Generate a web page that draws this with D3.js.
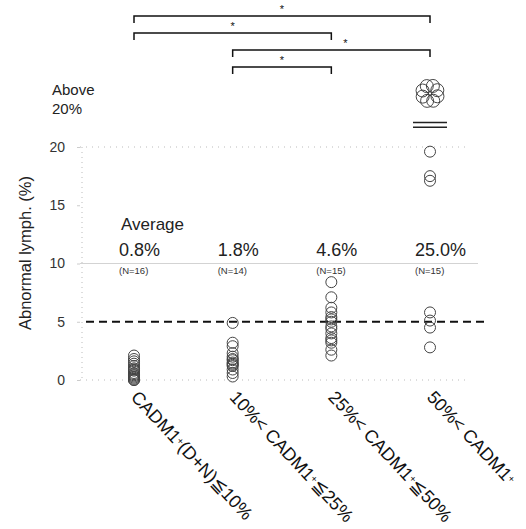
<!DOCTYPE html>
<html>
<head>
<meta charset="utf-8">
<script src="https://cdn.jsdelivr.net/npm/d3@7"></script>
<style>
  body { margin: 0; background: #fff; }
  svg { font-family: "Liberation Sans", Arial, sans-serif; }
</style>
</head>
<body>
<div id="chart"></div>
<script>
// groups along the x axis
const categories = ['g1', 'g2', 'g3', 'g4'];
const labelMain = ['CADM1', '10%< CADM1', '25%< CADM1', '50%< CADM1'];
const labelTail = ['(D+N)≦10%', '≦25%', '≦50%', ''];

// individual values (%) per group
const group1 = [2.1, 1.8, 1.6, 1.4, 1.2, 1.0, 0.9, 0.8, 0.6, 0.5, 0.4, 0.3, 0.2, 0.1, 0.0, 0.0];
const group2 = [4.9, 3.2, 2.9, 2.3, 2.0, 1.8, 1.7, 1.5, 1.4, 1.3, 1.2, 0.9, 0.6, 0.3];
const group3 = [8.4, 7.1, 6.2, 5.8, 5.4, 5.2, 5.0, 4.6, 4.4, 4.0, 3.6, 3.4, 3.2, 2.6, 2.1];
const group4 = [19.6, 17.5, 17.1, 5.8, 5.1, 4.5, 2.8];
const group4Above20 = 8; // points drawn in the "Above 20%" cluster

const averages = ['0.8%', '1.8%', '4.6%', '25.0%'];
const counts = ['(N=16)', '(N=14)', '(N=15)', '(N=15)'];

const yTicks = [0, 5, 10, 15, 20];
const threshold = 5;

// significance brackets [from, to]
const brackets = [['g1', 'g4'], ['g1', 'g3'], ['g2', 'g4'], ['g2', 'g3']];

const width = 526;
const height = 529;

const x = d3.scalePoint()
    .domain(categories)
    .range([134, 430]);

const y = d3.scaleLinear()
    .domain([0, 20])
    .range([380, 147]);

const svg = d3.select('#chart').append('svg')
    .attr('width', width)
    .attr('height', height);

// faint grid
svg.append('line')
    .attr('x1', 82).attr('x2', 82)
    .attr('y1', y(20)).attr('y2', y(0))
    .attr('stroke', '#bbb')
    .attr('stroke-dasharray', '1,4');

svg.selectAll('.grid')
    .data([0, 20])
  .enter().append('line')
    .attr('class', 'grid')
    .attr('x1', 80).attr('x2', 466)
    .attr('y1', d => y(d)).attr('y2', d => y(d))
    .attr('stroke', '#bbb')
    .attr('stroke-dasharray', '1,5');

svg.append('line')
    .attr('x1', 80).attr('x2', 478)
    .attr('y1', y(10)).attr('y2', y(10))
    .attr('stroke', '#c8c8c8')
    .attr('stroke-width', 0.8);

// y axis (labels only)
const yAxis = d3.axisLeft(y)
    .tickValues(yTicks)
    .tickSize(3)
    .tickPadding(12);

svg.append('g')
    .attr('class', 'y axis')
    .attr('transform', 'translate(80, 0)')
    .call(yAxis)
    .call(g => g.select('.domain').remove())
    .call(g => g.selectAll('line').attr('stroke', '#ccc'))
    .selectAll('text')
    .attr('font-size', '14px')
    .attr('fill', '#333');

svg.append('text')
    .attr('transform', `translate(31, ${y(10.9)}) rotate(-90)`)
    .attr('text-anchor', 'middle')
    .attr('font-size', '16.5px')
    .attr('fill', '#222')
    .text('Abnormal lymph. (%)');

svg.append('text')
    .attr('x', 52).attr('y', 95)
    .attr('font-size', '15px')
    .attr('fill', '#222')
    .call(t => t.append('tspan').attr('x', 52).text('Above'))
    .call(t => t.append('tspan').attr('x', 52).attr('dy', 19).text('20%'));

// threshold line
svg.append('line')
    .attr('x1', 86).attr('x2', 484)
    .attr('y1', y(threshold)).attr('y2', y(threshold))
    .attr('stroke', '#111')
    .attr('stroke-width', 2)
    .attr('stroke-dasharray', '8,5');

// points
const groups = [group1, group2, group3, group4];
const points = [];
groups.forEach((vals, i) => {
  vals.forEach(v => points.push({ cat: categories[i], value: v }));
});

svg.selectAll('.dot')
    .data(points)
  .enter().append('circle')
    .attr('class', 'dot')
    .attr('cx', d => x(d.cat))
    .attr('cy', d => y(d.value))
    .attr('r', 5.5)
    .attr('fill', 'none')
    .attr('stroke', '#444')
    .attr('stroke-width', 1);

// "Above 20%" cluster and axis break marks
const cx4 = x('g4');
const cy4 = y(24.6);
svg.selectAll('.above')
    .data(d3.range(group4Above20))
  .enter().append('circle')
    .attr('class', 'above')
    .attr('cx', i => cx4 + 8 * Math.cos((i / group4Above20) * 2 * Math.PI - 1.2))
    .attr('cy', i => cy4 + 8 * Math.sin((i / group4Above20) * 2 * Math.PI - 1.2))
    .attr('r', 6.5)
    .attr('fill', 'none')
    .attr('stroke', '#333')
    .attr('stroke-width', 0.9);

svg.selectAll('.break')
    .data([22.1, 21.7])
  .enter().append('line')
    .attr('class', 'break')
    .attr('x1', cx4 - 17).attr('x2', cx4 + 17)
    .attr('y1', d => y(d)).attr('y2', d => y(d))
    .attr('stroke', '#222')
    .attr('stroke-width', 1.6);

// averages
svg.append('text')
    .attr('x', x('g1') - 13).attr('y', 230)
    .attr('font-size', '17px')
    .attr('fill', '#222')
    .text('Average');

svg.selectAll('.avg')
    .data(averages)
  .enter().append('text')
    .attr('class', 'avg')
    .attr('x', (d, i) => x(categories[i]) - 15)
    .attr('y', 256)
    .attr('font-size', '18px')
    .attr('fill', '#222')
    .text(d => d);

svg.selectAll('.count')
    .data(counts)
  .enter().append('text')
    .attr('class', 'count')
    .attr('x', (d, i) => x(categories[i]) - 15)
    .attr('y', 274)
    .attr('font-size', '9.5px')
    .attr('fill', '#333')
    .text(d => d);

// significance brackets
const bracket = svg.selectAll('.bracket')
    .data(brackets)
  .enter().append('g')
    .attr('class', 'bracket')
    .attr('transform', (d, i) => `translate(0, ${16 + i * 17})`);

bracket.append('path')
    .attr('d', d => `M${x(d[0])},7V0H${x(d[1])}V7`)
    .attr('fill', 'none')
    .attr('stroke', '#111')
    .attr('stroke-width', 1.5);

bracket.append('text')
    .attr('x', (d, i) => (x(d[0]) + x(d[1])) / 2 + (i === 2 ? 14 : 0))
    .attr('y', -3)
    .attr('text-anchor', 'middle')
    .attr('font-size', '11px')
    .attr('fill', '#111')
    .text('*');

// rotated category labels
const xl = svg.selectAll('.xlabel')
    .data(categories)
  .enter().append('text')
    .attr('class', 'xlabel')
    .attr('transform', d => `translate(${x(d) - 4}, 398) rotate(47)`)
    .attr('font-size', '18px')
    .attr('fill', '#111');

xl.append('tspan').text((d, i) => labelMain[i]);
xl.append('tspan').attr('font-size', '10px').attr('dy', -4).text('+');
xl.append('tspan').attr('dy', 4).text((d, i) => labelTail[i]);
</script>
</body>
</html>
